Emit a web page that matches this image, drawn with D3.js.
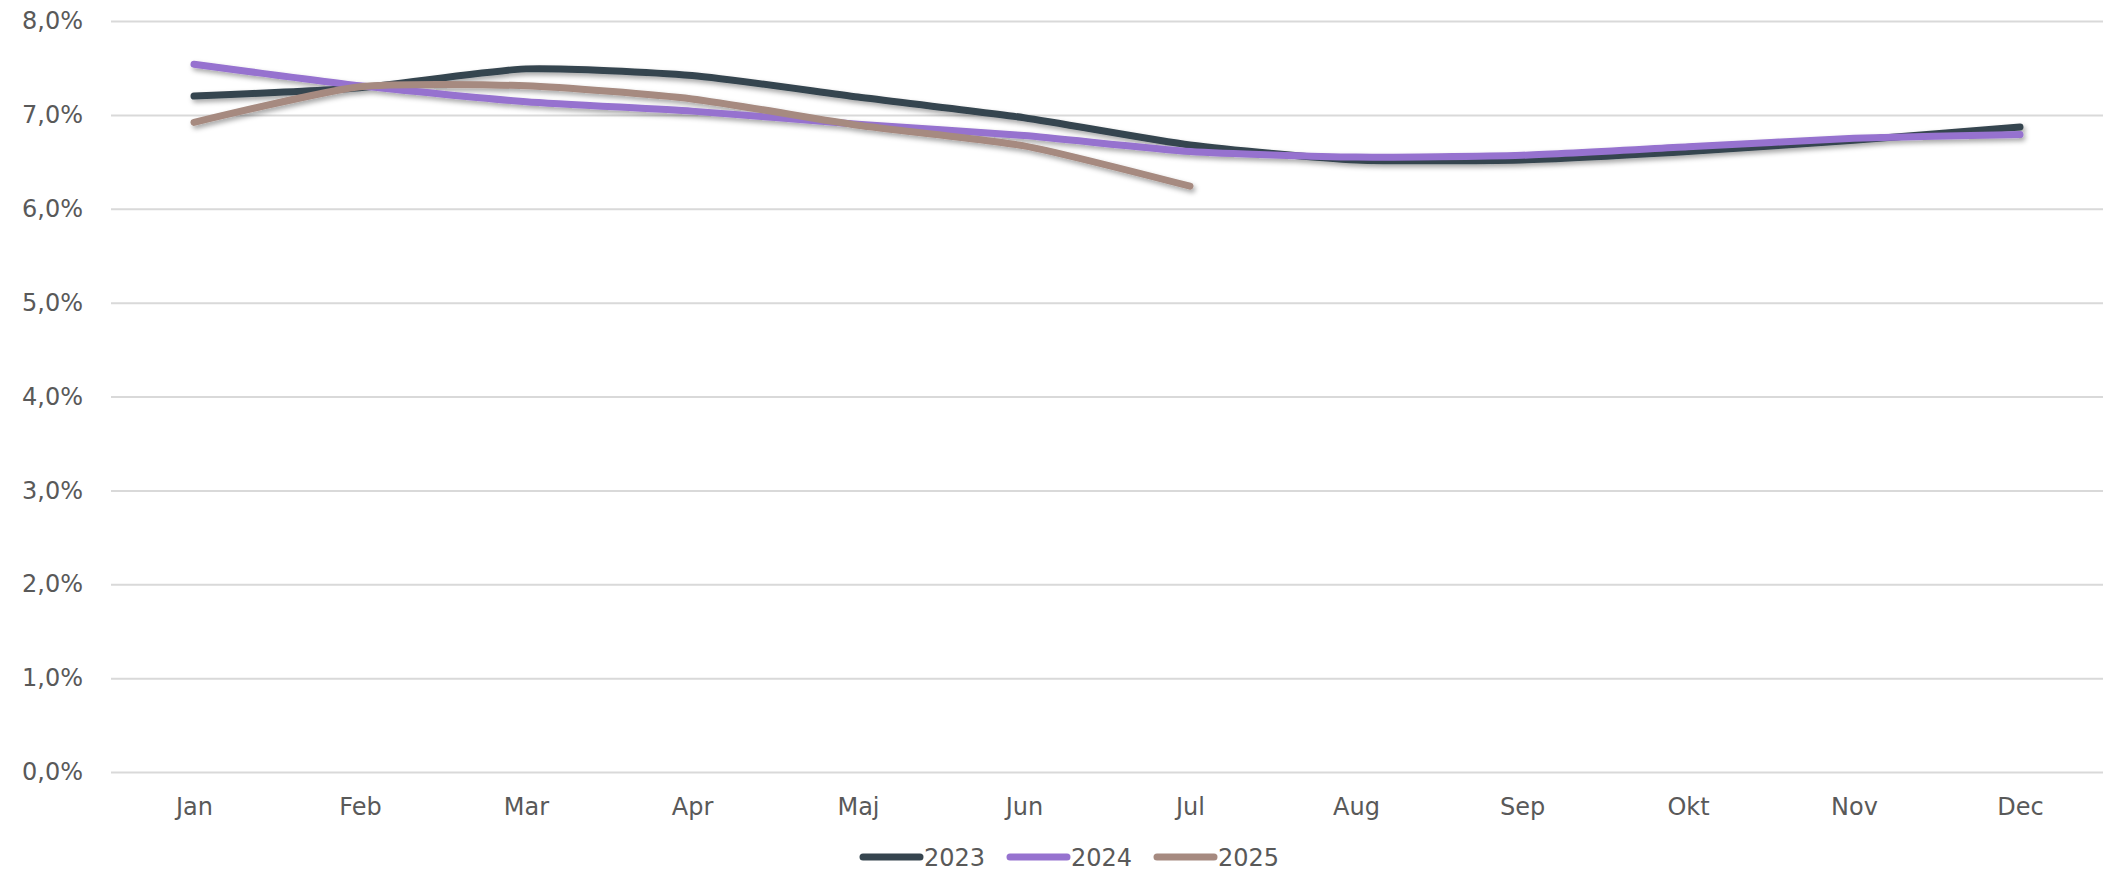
<!DOCTYPE html>
<html>
<head>
<meta charset="utf-8">
<script src="https://cdn.jsdelivr.net/npm/d3@7"></script>
<style>
    body { margin: 0; background: #fff; }
    .chart text { font-family: "DejaVu Sans", Verdana, sans-serif; fill: #595959; }
    .chart__grid line { stroke: #d9d9d9; stroke-width: 2; }
    .chart__grid .domain { display: none; }
</style>
</head>
<body>
<div id="chart"></div>
<script>
// Data
const months = ['Jan', 'Feb', 'Mar', 'Apr', 'Maj', 'Jun', 'Jul', 'Aug', 'Sep', 'Okt', 'Nov', 'Dec'];
const years = ['2023', '2024', '2025'];
const values2023 = [7.20, 7.29, 7.49, 7.42, 7.19, 6.97, 6.68, 6.52, 6.52, 6.61, 6.73, 6.87];
const values2024 = [7.54, 7.31, 7.14, 7.04, 6.90, 6.78, 6.61, 6.55, 6.57, 6.66, 6.75, 6.79];
const values2025 = [6.92, 7.30, 7.31, 7.17, 6.89, 6.67, 6.24];
const yTicks = [0, 1, 2, 3, 4, 5, 6, 7, 8];

const series = [
    {name: years[0], values: values2023, color: '#36454f'},
    {name: years[1], values: values2024, color: '#9672cf'},
    {name: years[2], values: values2025, color: '#a68a80'},
];

const width = 2103, height = 874;
const margin = {top: 21, right: 0, bottom: 102, left: 111};

const locale = d3.formatLocale({decimal: ',', thousands: '.', grouping: [3], currency: ['', ' kr']});
const pct = d => locale.format('.1f')(d) + '%';

const svg = d3.select('#chart').append('svg')
    .attr('class', 'chart')
    .attr('width', width)
    .attr('height', height);

// Shadow under the lines
const defs = svg.append('defs');
defs.append('filter')
    .attr('id', 'shadow')
    .attr('x', '-5%').attr('y', '-50%')
    .attr('width', '110%').attr('height', '200%')
    .append('feDropShadow')
    .attr('dx', 2).attr('dy', 3)
    .attr('stdDeviation', 2.5)
    .attr('flood-color', '#000')
    .attr('flood-opacity', 0.35);

const xScale = d3.scalePoint()
    .domain(months)
    .range([margin.left, width - margin.right])
    .padding(0.5);

const yScale = d3.scaleLinear()
    .domain([0, 8])
    .range([height - margin.bottom, margin.top]);

// Horizontal grid + y labels
svg.append('g')
    .attr('class', 'chart__grid')
    .attr('transform', `translate(${margin.left},0)`)
    .call(d3.axisLeft(yScale)
        .tickValues(yTicks)
        .tickSize(-(width - margin.left - margin.right))
        .tickPadding(28)
        .tickFormat(pct))
    .call(g => g.selectAll('text').attr('font-size', 24).attr('fill', '#595959'));

// Bottom axis labels
svg.append('g')
    .attr('transform', `translate(0,${height - margin.bottom})`)
    .call(d3.axisBottom(xScale).tickSize(0))
    .call(g => g.select('.domain').remove())
    .call(g => g.selectAll('text')
        .attr('y', 43).attr('dy', 0)
        .attr('font-size', 24).attr('fill', '#595959'));

// Lines
const line = d3.line()
    .x((d, i) => xScale(months[i]))
    .y(d => yScale(d))
    .curve(d3.curveCardinal.tension(0.4));

svg.append('g')
    .attr('filter', 'url(#shadow)')
    .selectAll('path')
    .data(series)
    .enter().append('path')
    .attr('d', d => line(d.values))
    .attr('fill', 'none')
    .attr('stroke', d => d.color)
    .attr('stroke-width', 7)
    .attr('stroke-linecap', 'round')
    .attr('stroke-linejoin', 'round');

// Legend
const legendX = [863, 1010, 1157];
const legend = svg.append('g')
    .selectAll('g')
    .data(series)
    .enter().append('g')
    .attr('transform', (d, i) => `translate(${legendX[i]},857)`);

legend.append('line')
    .attr('x1', 0).attr('x2', 57)
    .attr('y1', 0).attr('y2', 0)
    .attr('stroke', d => d.color)
    .attr('stroke-width', 7)
    .attr('stroke-linecap', 'round');

legend.append('text')
    .attr('x', 61)
    .attr('y', 9)
    .attr('font-size', 24)
    .text(d => d.name);
</script>
</body>
</html>
